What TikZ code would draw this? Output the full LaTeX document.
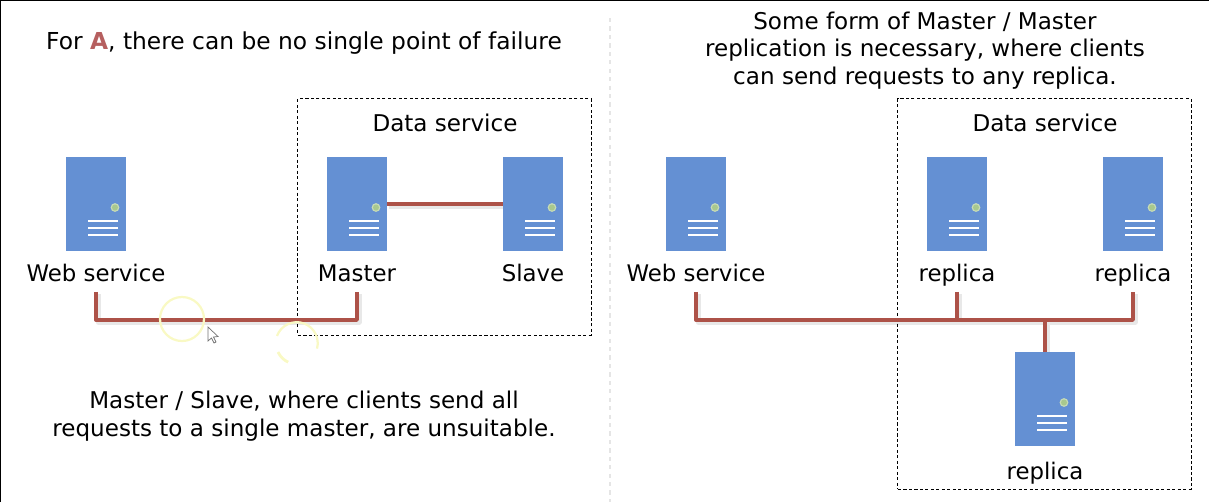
\documentclass[tikz,border=0pt]{standalone}
\usepackage{fontspec}
\usetikzlibrary{backgrounds}
\setmainfont{DejaVu Sans}
\definecolor{serverblue}{HTML}{6490D3}
\definecolor{lampgreen}{HTML}{A8C88E}
\definecolor{busred}{HTML}{AD5248}
\definecolor{letterred}{HTML}{B65F5F}
\definecolor{sweepyellow}{HTML}{F9F9C4}
\tikzset{
  serverbox/.style={rectangle,fill=serverblue,minimum width=1.5cm,minimum height=2.35cm,inner sep=0pt},
  serverlabel/.style={anchor=base,inner sep=0pt,outer sep=0pt,text height=.4cm,text depth=.26cm,font=\fontsize{16.25}{19.6}\selectfont},
  captiontext/.style={align=center,inner sep=0pt,font=\fontsize{16.4}{19.6}\selectfont},
  busline/.style={draw=busred,line width=2.4pt,line join=round},
  busshade/.style={draw=black!9,line width=3.4pt,line join=round,transform canvas={xshift=1.5pt,yshift=-1.7pt}},
  groupbox/.style={draw=black,dash pattern=on 2.2pt off 1.7pt,line width=.7pt},
  sweepring/.style={draw=sweepyellow,line width=1.6pt}
}
\newcommand{\serverunit}[3]{
  \begin{scope}[shift={(#2,#3)}]
    \node[serverbox] (#1) at (0,0) {};
    \fill[lampgreen!65!white] (19,3.5) circle (4.4);
    \fill[lampgreen] (19,3.5) circle (3);
    \foreach \liney in {16.7,24,31}
      \draw[white,line width=1.7pt] (-8,\liney) -- (22,\liney);
  \end{scope}
}
\newcommand{\buspaths}[1]{
  \draw[#1] (master) -- (slave);
  \draw[#1] (webleftname.south) |- (busleft) -| (mastername.south);
  \draw[#1] (webrightname.south) |- (busright) -| (replicabname.south);
  \draw[#1] (replicaaname.south) -- (busjoin);
  \draw[#1] (busright) -- (replicac.north);
}
\begin{document}
\begin{tikzpicture}[x=.025cm,y=-.025cm,font=\fontsize{16.4}{19.6}\selectfont]
        \useasboundingbox (0,0) rectangle (1209,502);
        \draw[black,line width=1.2pt] (.5,502) -- (.5,.5) -- (1209,.5);
        \draw[black!10,line width=2pt,dashed] (610,18) -- (610,502);

        \node[captiontext,font=\fontsize{16.6}{19.6}\selectfont] (headleft) at (304,43.5) {For \textcolor{letterred}{\textbf{A}}, there can be no single point of failure};
        \node[captiontext] (headright) at (925,50.5) {Some form of Master / Master\\replication is necessary, where clients\\can send requests to any replica.};
        \node[captiontext] (footleft) at (304,416) {Master / Slave, where clients send all\\requests to a single master, are unsuitable.};

        \node[groupbox,minimum width=7.325cm,minimum height=5.9cm,inner sep=0pt] (groupleft) at (444.5,217) {};
        \node[groupbox,minimum width=7.325cm,minimum height=9.75cm,inner sep=0pt] (groupright) at (1044.5,294) {};
        \node (dataleft) at (445,123) {Data service};
        \node (dataright) at (1045,123) {Data service};

        \serverunit{webleft}{96}{204}
        \serverunit{master}{357}{204}
        \serverunit{slave}{533}{204}
        \serverunit{webright}{696}{204}
        \serverunit{replicaa}{957}{204}
        \serverunit{replicab}{1133}{204}
        \serverunit{replicac}{1045}{399}

        \node[serverlabel] (webleftname) at (96,281.5) {Web service};
        \node[serverlabel] (mastername) at (357,281.5) {Master};
        \node[serverlabel] (slavename) at (533,281.5) {Slave};
        \node[serverlabel] (webrightname) at (696,281.5) {Web service};
        \node[serverlabel] (replicaaname) at (957,281.5) {replica};
        \node[serverlabel] (replicabname) at (1133,281.5) {replica};
        \node[serverlabel] (replicacname) at (1045,479.5) {replica};

        \coordinate (busleft) at (226,320);
        \coordinate (busright) at (1045,320);
        \coordinate (busjoin) at (957,320);

        \begin{pgfonlayer}{background}
          \buspaths{busshade}
        \end{pgfonlayer}
        \buspaths{busline}

        % pointer trail
        \draw[sweepring] (182,319) circle (22);
        \draw[sweepring] (277,336) arc (200:375:21);
        \draw[sweepring,line width=2pt] (278,352) arc (155:115:21);
        \draw[black!55,fill=white,line width=.5pt] (208,327) -- (208,341) -- (211.5,338) -- (214,343) -- (216,342) -- (213.5,337) -- (218,336.5) -- cycle;
      \end{tikzpicture}
\end{document}
